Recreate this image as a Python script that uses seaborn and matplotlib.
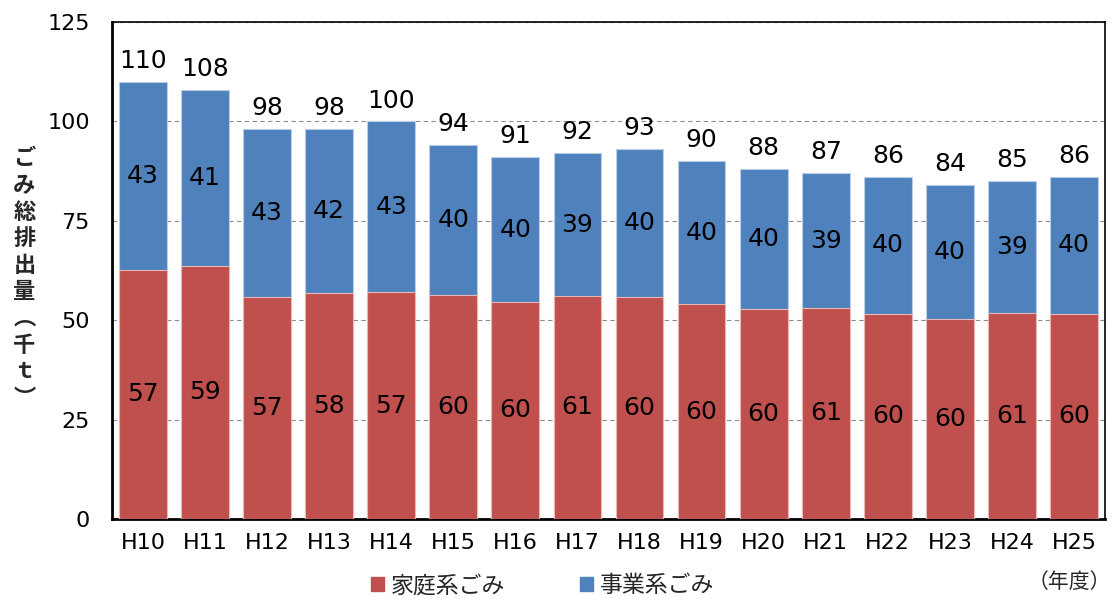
import matplotlib
matplotlib.use("Agg")
import matplotlib.pyplot as plt
from matplotlib.patches import Patch
import seaborn as sns
import pandas as pd

# Fiscal years (Heisei era)
years = ["H10", "H11", "H12", "H13", "H14", "H15", "H16", "H17",
         "H18", "H19", "H20", "H21", "H22", "H23", "H24", "H25"]
# Total waste (thousand tonnes)
totals = [110, 108, 98, 98, 100, 94, 91, 92, 93, 90, 88, 87, 86, 84, 85, 86]
# Share of household waste (%)
household_pct = [57, 59, 57, 58, 57, 60, 60, 61, 60, 60, 60, 61, 60, 60, 61, 60]
# Share of business waste (%)
business_pct = [43, 41, 43, 42, 43, 40, 40, 39, 40, 40, 40, 39, 40, 40, 39, 40]

RED = "#C0504D"
BLUE = "#4F81BD"

sns.set_theme(style="white")
plt.rcParams["font.family"] = ["DejaVu Sans", "Noto Sans CJK JP"]
CJK = ["Noto Sans CJK JP", "DejaVu Sans"]

df = pd.DataFrame({
    "year": years,
    "total": totals,
    "household": [t * p / 100 for t, p in zip(totals, household_pct)],
})
df["business"] = df["total"] - df["household"]

fig = plt.figure(figsize=(11.12, 5.99), dpi=100)
ax = fig.add_axes([0.1007, 0.1336, 0.893, 0.8297])

# Stacked bars: full total in blue, household share in red on top of it
sns.barplot(data=df, x="year", y="total", color=BLUE, saturation=1,
            width=0.77, errorbar=None, edgecolor="#B9CDE5", linewidth=0.8,
            ax=ax, zorder=2)
sns.barplot(data=df, x="year", y="household", color=RED, saturation=1,
            width=0.77, errorbar=None, edgecolor="#E6B9B8", linewidth=0.8,
            ax=ax, zorder=3)

ax.set_xlim(-0.5, len(years) - 0.5)
ax.set_ylim(0, 125)
ax.set_yticks([0, 25, 50, 75, 100, 125])
ax.yaxis.grid(True, linestyle=(0, (4, 3)), color="#8C8C8C", linewidth=0.8)
ax.set_axisbelow(True)
ax.tick_params(axis="both", length=0, labelsize=16, colors="black")
ax.tick_params(axis="x", pad=10)
ax.tick_params(axis="y", pad=16)
ax.set_xlabel("")
ax.set_ylabel("")

for side in ["left", "bottom"]:
    ax.spines[side].set_color("black")
    ax.spines[side].set_linewidth(2.0)
for side in ["top", "right"]:
    ax.spines[side].set_color("black")
    ax.spines[side].set_linewidth(1.2)

# Value labels
for i, row in df.iterrows():
    ax.text(i, row["household"] / 2, f"{household_pct[i]}", ha="center",
            va="center", fontsize=18, color="black", zorder=5)
    ax.text(i, row["household"] + row["business"] / 2, f"{business_pct[i]}",
            ha="center", va="center", fontsize=18, color="black", zorder=5)
    ax.annotate(f"{totals[i]}", xy=(i, row["total"]), xytext=(0, 15),
                textcoords="offset points", ha="center", va="center",
                fontsize=18, color="black", zorder=5)

# Vertical y-axis title
ylabel = "\n".join(["ご", "み", "総", "排", "出", "量", "︵", "千", "ｔ", "︶"])
fig.text(0.022, 0.535, ylabel, ha="center", va="center", fontsize=16,
         linespacing=1.2, fontweight="bold", family=CJK)

handles = [Patch(facecolor=RED, edgecolor=RED), Patch(facecolor=BLUE, edgecolor=BLUE)]
fig.legend(handles, ["家庭系ごみ", "事業系ごみ"], loc="center",
           bbox_to_anchor=(0.488, 0.022), ncol=2, frameon=False,
           prop={"family": CJK, "size": 16.5},
           handlelength=0.55, handleheight=0.55, handletextpad=0.3,
           columnspacing=3.3)

fig.text(0.962, 0.028, "（年度）", ha="center", va="center", fontsize=15,
         family=CJK)

fig.savefig("out.png", dpi=100)
